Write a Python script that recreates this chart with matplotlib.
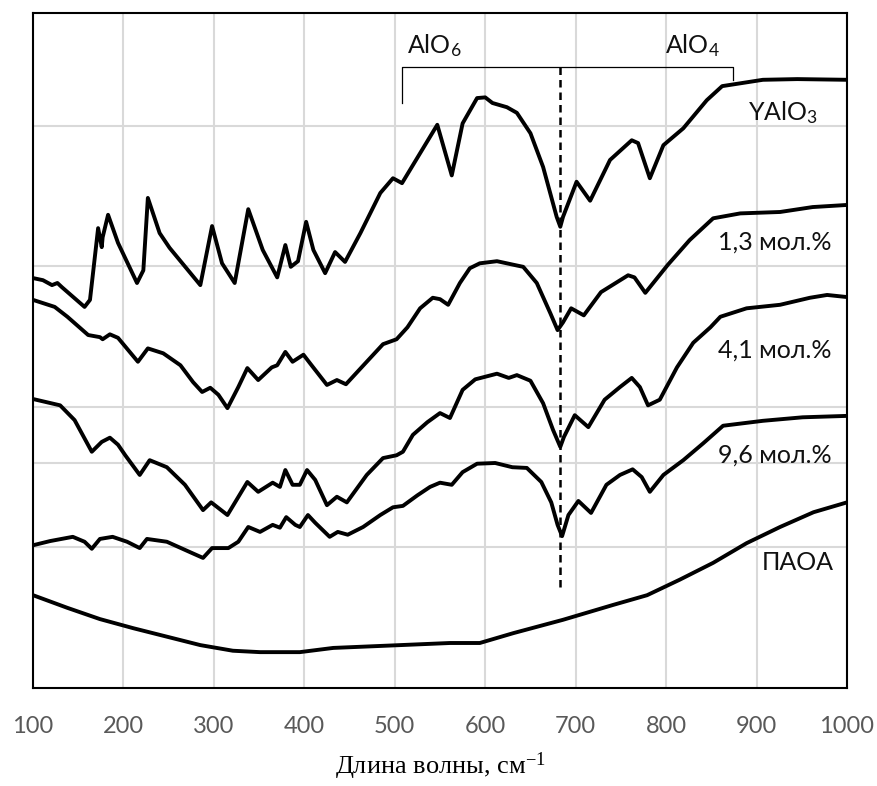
import matplotlib.pyplot as plt

# --- data (wavenumber, cm-1 / intensity, arb. units) ---
w_yalo3 = [100, 111, 121, 127, 132, 157, 163, 172, 176, 177, 183, 194, 215, 222, 227, 240, 251, 285,
           298, 309, 323, 338, 354, 370, 379, 385, 393, 402, 410, 423, 434, 445, 462, 484, 498, 508,
           547, 563, 575, 591, 600, 608, 624, 635, 650, 664, 679, 683, 686, 701, 716, 738, 762, 769,
           782, 797, 819, 845, 862, 907, 945, 1000]
i_yalo3 = [58.3, 58.0, 57.3, 57.6, 57.0, 54.2, 55.2, 65.4, 62.7, 64.1, 67.3, 63.3, 57.6, 59.4, 69.7,
           64.7, 62.6, 57.3, 65.7, 60.4, 57.6, 68.1, 62.3, 58.4, 63.0, 59.9, 60.7, 66.3, 62.3, 59.0,
           62.0, 60.6, 64.7, 70.4, 72.5, 71.8, 80.1, 72.9, 80.3, 83.9, 84.0, 83.2, 82.6, 81.8, 78.9,
           74.1, 67.0, 65.6, 67.0, 72.0, 69.3, 75.1, 77.9, 77.5, 72.5, 77.2, 79.6, 83.6, 85.6, 86.5,
           86.6, 86.5]

w_13 = [100, 124, 138, 161, 174, 177, 185, 194, 216, 227, 244, 263, 277, 287, 296, 305, 315, 327,
        337, 349, 364, 370, 379, 387, 399, 408, 425, 436, 446, 469, 487, 502, 514, 528, 542, 550,
        559, 572, 583, 594, 613, 631, 642, 657, 672, 680, 686, 695, 709, 728, 758, 765, 777, 802,
        826, 852, 882, 926, 962, 1000]
i_13 = [55.2, 54.2, 52.8, 50.2, 49.9, 49.6, 50.3, 49.8, 46.4, 48.3, 47.6, 45.9, 43.5, 42.1, 42.7,
        41.7, 39.8, 42.8, 45.5, 43.8, 45.6, 45.9, 47.8, 46.4, 47.4, 45.9, 43.1, 43.8, 43.2, 46.4,
        48.9, 49.6, 51.3, 54.0, 55.5, 55.3, 54.5, 57.6, 59.7, 60.4, 60.7, 60.2, 59.9, 57.6, 53.3,
        50.9, 52.0, 54.0, 53.0, 56.3, 58.7, 58.4, 56.2, 60.2, 63.7, 66.8, 67.5, 67.7, 68.4, 68.7]

w_41 = [100, 130, 146, 165, 176, 185, 194, 202, 218, 229, 248, 268, 288, 297, 315, 337, 349, 365,
        373, 379, 387, 395, 403, 412, 425, 436, 447, 469, 487, 502, 509, 520, 536, 550, 561, 575,
        589, 613, 626, 635, 650, 664, 675, 683, 687, 699, 714, 732, 749, 762, 771, 780, 793, 812,
        830, 849, 860, 889, 926, 959, 978, 1000]
i_41 = [41.1, 40.2, 38.1, 33.6, 35.0, 35.6, 34.6, 33.1, 30.3, 32.4, 31.4, 28.9, 25.3, 26.4, 24.6,
        29.3, 27.9, 29.2, 28.6, 31.0, 28.9, 28.9, 31.0, 29.6, 26.0, 27.2, 26.4, 30.3, 32.7, 33.1,
        33.6, 36.0, 37.8, 39.1, 38.4, 42.4, 43.9, 44.7, 44.1, 44.5, 43.7, 40.5, 36.7, 34.3, 35.7,
        38.8, 37.1, 41.0, 42.8, 44.1, 42.8, 40.2, 41.0, 45.6, 49.1, 51.3, 52.8, 54.0, 54.5, 55.5,
        55.9, 55.6]

w_96 = [100, 119, 144, 157, 165, 174, 188, 204, 218, 226, 248, 274, 288, 298, 316, 327, 338, 351,
        365, 373, 380, 390, 395, 404, 412, 428, 437, 448, 465, 484, 498, 509, 525, 539, 550, 563,
        575, 591, 611, 630, 646, 662, 673, 680, 685, 692, 703, 717, 734, 749, 763, 773, 782, 797,
        819, 841, 863, 907, 951, 1000]
i_96 = [20.3, 20.9, 21.5, 20.8, 19.8, 21.2, 21.5, 20.8, 19.9, 21.2, 20.8, 19.3, 18.5, 19.9, 19.9,
        20.8, 22.9, 22.2, 23.2, 22.8, 24.3, 23.2, 22.9, 24.6, 23.5, 21.5, 22.2, 21.8, 22.9, 24.6,
        25.7, 25.9, 27.4, 28.6, 29.2, 28.9, 30.7, 31.9, 32.0, 31.4, 31.3, 29.3, 26.4, 23.2, 21.6,
        24.6, 26.6, 24.9, 28.9, 30.3, 31.1, 30.0, 27.9, 30.3, 32.4, 34.8, 37.3, 38.0, 38.5, 38.7]

w_paoa = [100, 138, 174, 211, 248, 285, 321, 351, 395, 432, 506, 561, 594, 631, 686, 741, 779, 815,
          852, 889, 926, 963, 1000]
i_paoa = [13.2, 11.4, 9.8, 8.5, 7.3, 6.1, 5.3, 5.1, 5.1, 5.7, 6.1, 6.4, 6.4, 7.8, 9.7, 11.8, 13.2,
          15.4, 17.8, 20.6, 22.9, 25.0, 26.4]

series = [(w_yalo3, i_yalo3), (w_13, i_13), (w_41, i_41), (w_96, i_96), (w_paoa, i_paoa)]
labels = ['YAlO$\\mathregular{_3}$', '1,3 мол.%', '4,1 мол.%', '9,6 мол.%', 'ПАОА']
label_x = [929, 920, 920, 920, 945]
label_y = [81.8, 63.4, 48.1, 33.1, 17.9]

# AlO6 / AlO4 bracket and marker line at 683 cm-1
dash_x = 683
dash_y = [88.3, 13.9]
bracket_x = [508, 874]
bracket_top = 88.3
bracket_ends = [83.2, 86.5]

xticks = [100, 200, 300, 400, 500, 600, 700, 800, 900, 1000]

sans = 'Lato'
fig = plt.figure(figsize=(8.78, 7.86), dpi=100)
ax = fig.add_axes([33 / 878, 1 - 688 / 786, 814 / 878, 675 / 786])

for w, i in series:
    ax.plot(w, i, color='black', linewidth=2.8, solid_joinstyle='round', solid_capstyle='round')

for lab, lx, ly in zip(labels, label_x, label_y):
    ax.text(lx, ly, lab, ha='center', va='center', fontsize=18, family=sans, color='#111111')

# bracket
ax.plot([bracket_x[0], bracket_x[0], bracket_x[1], bracket_x[1]],
        [bracket_ends[0], bracket_top, bracket_top, bracket_ends[1]], color='black', linewidth=0.9)
ax.plot([dash_x, dash_x], dash_y, color='black', linewidth=1.8, linestyle=(0, (3, 2)))
ax.text(513, 91.3, 'AlO$\\mathregular{_6}$', ha='left', va='center', fontsize=18, family=sans, color='#111111')
ax.text(799, 91.3, 'AlO$\\mathregular{_4}$', ha='left', va='center', fontsize=18, family=sans, color='#111111')

ax.set_xlim(100, 1000)
ax.set_ylim(0, 96)
ax.set_xticks(xticks)
ax.set_yticks([20, 40, 60, 80])
ax.set_yticklabels([])
ax.axhline(32.0, color='#d9d9d9', linewidth=1.5, zorder=0)
ax.grid(True, color='#d9d9d9', linewidth=1.5, zorder=0)
ax.set_axisbelow(True)
ax.tick_params(axis='both', length=0)
ax.tick_params(axis='x', pad=20, labelsize=17, labelcolor='#595959')
for t in ax.get_xticklabels():
    t.set_family(sans)
for spine in ax.spines.values():
    spine.set_linewidth(1.5)

ax.set_xlabel('Длина волны, см$\\mathregular{^{-1}}$', family='Liberation Serif', fontsize=19, labelpad=10)

plt.savefig('out.png', dpi=100)
